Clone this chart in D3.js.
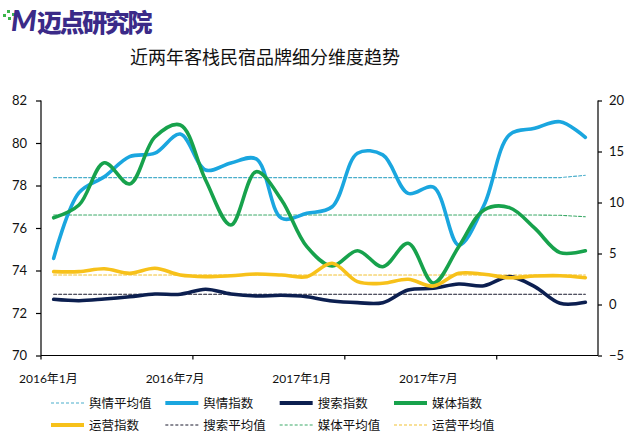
<!DOCTYPE html>
<html>
<head>
<meta charset="utf-8">
<script src="https://cdn.jsdelivr.net/npm/d3@7"></script>
<style>
  body { margin: 0; background: #fff; }
  svg { display: block; font-family: Lato, "Noto Sans CJK SC", sans-serif; }
</style>
</head>
<body>
<svg id="chart" width="625" height="441"></svg>
<script>
// months Jan 2016 .. Oct 2017
let months = ["2016-01","2016-02","2016-03","2016-04","2016-05","2016-06",
  "2016-07","2016-08","2016-09","2016-10","2016-11","2016-12",
  "2017-01","2017-02","2017-03","2017-04","2017-05","2017-06",
  "2017-07","2017-08","2017-09","2017-10"];
let tickMonths = ["2016-01","2016-07","2017-01","2017-07"];
let tickLabels = ["2016年1月","2016年7月","2017年1月","2017年7月"];

// left axis series
let yuqing = [74.57,77.66,78.41,79.36,79.52,80.42,78.73,79.06,79.25,76.46,76.69,
  77.0,79.52,79.44,77.63,77.92,75.2,77.08,80.38,80.69,81.0,80.27];
let meiti = [76.48,77.08,79.07,78.07,80.28,80.85,78.26,76.14,78.65,77.32,75.12,
  74.21,74.93,74.18,75.28,73.41,75.12,76.85,76.96,75.99,74.84,74.93];
let yuqingAvg = [78.37,78.37,78.37,78.37,78.37,78.37,78.37,78.37,78.37,78.37,78.37,
  78.37,78.37,78.37,78.37,78.37,78.37,78.37,78.37,78.37,78.37,78.48];
let meitiAvg = [76.61,76.61,76.61,76.61,76.61,76.61,76.61,76.61,76.61,76.61,76.61,
  76.61,76.61,76.61,76.61,76.61,76.61,76.61,76.61,76.61,76.6,76.53];

// right axis series
let sousuo = [0.51,0.37,0.54,0.76,1.03,1.0,1.49,1.03,0.83,0.9,0.76,
  0.34,0.18,0.18,1.42,1.59,2.01,1.84,2.73,1.75,0.12,0.22];
let yunying = [3.22,3.22,3.51,3.06,3.55,2.89,2.73,2.82,2.99,2.89,2.73,
  4.04,2.24,2.08,2.47,1.81,3.06,2.96,2.63,2.79,2.82,2.63];
let sousuoAvg = [1.0,1.0,1.0,1.0,1.0,1.0,1.0,1.0,1.0,1.0,1.0,
  1.0,1.0,1.0,1.0,1.0,1.0,1.0,1.0,1.0,1.0,1.0];
let yunyingAvg = [2.89,2.89,2.89,2.89,2.89,2.89,2.89,2.89,2.89,2.89,2.89,
  2.89,2.89,2.89,2.89,2.89,2.89,2.89,2.89,2.89,2.89,2.89];

let leftTicks = [70,72,74,76,78,80,82];
let rightTicks = [-5,0,5,10,15,20];

// series table, drawn in this order (later on top)
let series = [
  {name: "舆情平均值", values: yuqingAvg, axis: "left", color: "#4aaecb", dashed: true},
  {name: "搜索平均值", values: sousuoAvg, axis: "right", color: "#1a1a2e", dashed: true},
  {name: "媒体平均值", values: meitiAvg, axis: "left", color: "#3caa68", dashed: true},
  {name: "运营平均值", values: yunyingAvg, axis: "right", color: "#f2c232", dashed: true},
  {name: "舆情指数", values: yuqing, axis: "left", color: "#1aa6df", dashed: false},
  {name: "搜索指数", values: sousuo, axis: "right", color: "#0c1f50", dashed: false},
  {name: "媒体指数", values: meiti, axis: "left", color: "#17a24c", dashed: false},
  {name: "运营指数", values: yunying, axis: "right", color: "#f7c11a", dashed: false}
];
let legendOrder = ["舆情平均值","舆情指数","搜索指数","媒体指数",
  "运营指数","搜索平均值","媒体平均值","运营平均值"];

let svg = d3.select("#chart");
let plotLeft = 41, plotRight = 598, plotTop = 100.5, plotBottom = 355.5;

let x = d3.scaleBand().domain(months).range([plotLeft, plotRight]).paddingInner(0).paddingOuter(0);
let cx = d => x(d) + x.bandwidth() / 2;
let yL = d3.scaleLinear().domain([70, 82]).range([plotBottom, plotTop]);
let yR = d3.scaleLinear().domain([-5, 20]).range([plotBottom, plotTop]);

// logo
let logo = svg.append("g");
logo.selectAll("rect").data([[3,14],[7,10],[8,17],[12,13]]).enter()
  .append("rect")
  .attr("x", d => d[0]).attr("y", d => d[1])
  .attr("width", 3).attr("height", 3)
  .attr("fill", "#3cb44a");
logo.append("text")
  .attr("x", 11).attr("y", 31)
  .attr("font-size", 29).attr("font-weight", 900)
  .attr("font-style", "italic")
  .attr("fill", "#3b2a88")
  .text("M");
logo.append("text")
  .attr("x", 37).attr("y", 32)
  .attr("font-size", 25).attr("font-weight", 900)
  .attr("font-family", "'Noto Sans CJK SC', sans-serif")
  .attr("fill", "#3b2a88")
  .attr("letter-spacing", -2.4)
  .text("迈点研究院");

// title
svg.append("text")
  .attr("x", 265).attr("y", 64)
  .attr("text-anchor", "middle")
  .attr("font-size", 18)
  .attr("font-family", "'Noto Sans CJK SC', sans-serif")
  .attr("fill", "#111")
  .text("近两年客栈民宿品牌细分维度趋势");

// axes
let leftAxis = svg.append("g")
  .attr("transform", "translate(" + plotLeft + ",0)")
  .call(d3.axisLeft(yL).tickValues(leftTicks).tickSize(5).tickPadding(9));
let rightAxis = svg.append("g")
  .attr("transform", "translate(" + plotRight + ",0)")
  .call(d3.axisRight(yR).tickValues(rightTicks).tickSize(4).tickPadding(7));
let bottomAxis = svg.append("g")
  .attr("transform", "translate(0," + plotBottom + ")")
  .call(d3.axisBottom(x).tickValues(tickMonths).tickSize(4).tickFormat(""));
// ticks sit on category boundaries
bottomAxis.selectAll(".tick").attr("transform", d => "translate(" + x(d) + ",0)");

[leftAxis, rightAxis, bottomAxis].forEach(function(g){
  g.select(".domain").attr("stroke", "#000").attr("stroke-width", 1.2);
  g.selectAll(".tick line").attr("stroke", "#000").attr("stroke-width", 1.2);
  g.selectAll(".tick text").attr("font-size", 13).attr("fill", "#111")
    .attr("font-family", "Lato, sans-serif");
});
leftAxis.select(".domain").attr("d", "M0," + plotTop + "V" + plotBottom);
rightAxis.select(".domain").attr("d", "M0," + plotTop + "V" + plotBottom);
bottomAxis.select(".domain").attr("d", "M" + plotLeft + ",0H" + plotRight);

// month labels (drawn shifted left of the ticks, like the reference)
let labelX = d3.scaleLinear().domain([0, 18]).range([19, 399]);
svg.append("g").selectAll("text").data(tickMonths).enter()
  .append("text")
  .attr("x", d => labelX(months.indexOf(d)))
  .attr("y", 383)
  .attr("font-size", 12)
  .attr("fill", "#111")
  .text((d, i) => tickLabels[i]);

// lines
let lineFor = function(s){
  let yScale = s.axis == "left" ? yL : yR;
  return d3.line()
    .x((d, i) => cx(months[i]))
    .y(d => yScale(d))
    .curve(s.dashed ? d3.curveLinear : d3.curveCatmullRom.alpha(0.5));
};

svg.append("g").selectAll("path").data(series).enter()
  .append("path")
  .attr("d", s => lineFor(s)(s.values))
  .attr("fill", "none")
  .attr("stroke", s => s.color)
  .attr("stroke-width", s => s.dashed ? 1.1 : 3.6)
  .attr("stroke-dasharray", s => s.dashed ? "3,2" : null)
  .attr("stroke-linecap", "round")
  .attr("stroke-linejoin", "round");

// legend
let legendCol = d3.scaleLinear().domain([0, 3]).range([51, 394]);
let legendRow = d3.scaleLinear().domain([0, 1]).range([403, 425]);
let legend = svg.append("g").selectAll("g")
  .data(legendOrder.map(n => series.find(s => s.name == n))).enter()
  .append("g")
  .attr("transform", (d, i) => "translate(" + legendCol(i % 4) + "," + legendRow(Math.floor(i / 4)) + ")");
legend.append("line")
  .attr("x1", 0).attr("x2", 33).attr("y1", 0).attr("y2", 0)
  .attr("stroke", d => d.color)
  .attr("stroke-width", d => d.dashed ? 1.1 : 4)
  .attr("stroke-dasharray", d => d.dashed ? "3,2" : null);
legend.append("text")
  .attr("x", 38).attr("y", 5)
  .attr("font-size", 12.5)
  .attr("font-family", "'Noto Sans CJK SC', sans-serif")
  .attr("fill", "#111")
  .text(d => d.name);
</script>
</body>
</html>
